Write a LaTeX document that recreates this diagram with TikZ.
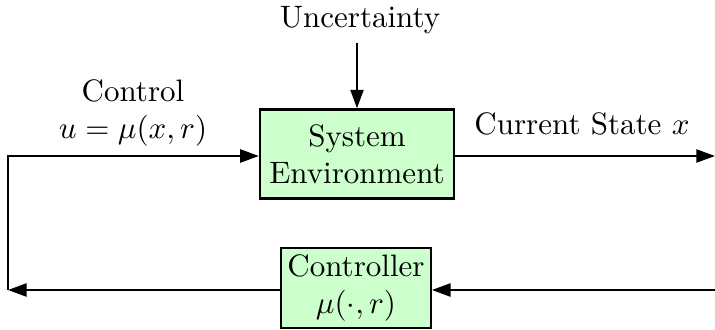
\documentclass[tikz,border=0pt]{standalone}
\usetikzlibrary{arrows.meta}
\definecolor{blockfill}{RGB}{204,255,204}
\begin{document}
\begin{tikzpicture}[x=0.3226pt,y=-0.3226pt,
  block/.style={draw,line width=0.75pt,fill=blockfill,align=center,inner sep=2pt},
  flow/.style={line width=0.75pt,-{Triangle[length=6pt,width=4.2pt]}}]
  \useasboundingbox (0,0) rectangle (715,330);

  % blocks
  \node[block,minimum width=62.6pt,minimum height=28.7pt] (sys) at (357,154) {System\\Environment};
  \node[block,minimum width=48.1pt,minimum height=25.8pt] (ctl) at (356,288) {Controller\\$\mu(\cdot,r)$};

  % labels
  \node[anchor=base] (unc) at (360,28) {Uncertainty};
  \node[align=center] (ctltxt) at (133,113) {Control\\$u=\mu(x,r)$};
  \node[anchor=base] (state) at (582,135) {Current State $x$};

  % free ends of the loop
  \coordinate (tl) at (8,156);
  \coordinate (bl) at (8,290);
  \coordinate (outr) at (715,156);
  \coordinate (inr) at (715,290);

  % connectors
  \draw[flow] (unc.south -| sys.north) ++(0,-2) -- (sys.north);
  \draw[flow] (sys.east |- tl) -- (outr);
  \draw[flow] (inr) -- (ctl.east |- inr);
  \draw[flow] (ctl.west |- bl) -- (bl);
  \draw[flow] (bl) -- (tl) -- (sys.west |- tl);
\end{tikzpicture}
\end{document}
